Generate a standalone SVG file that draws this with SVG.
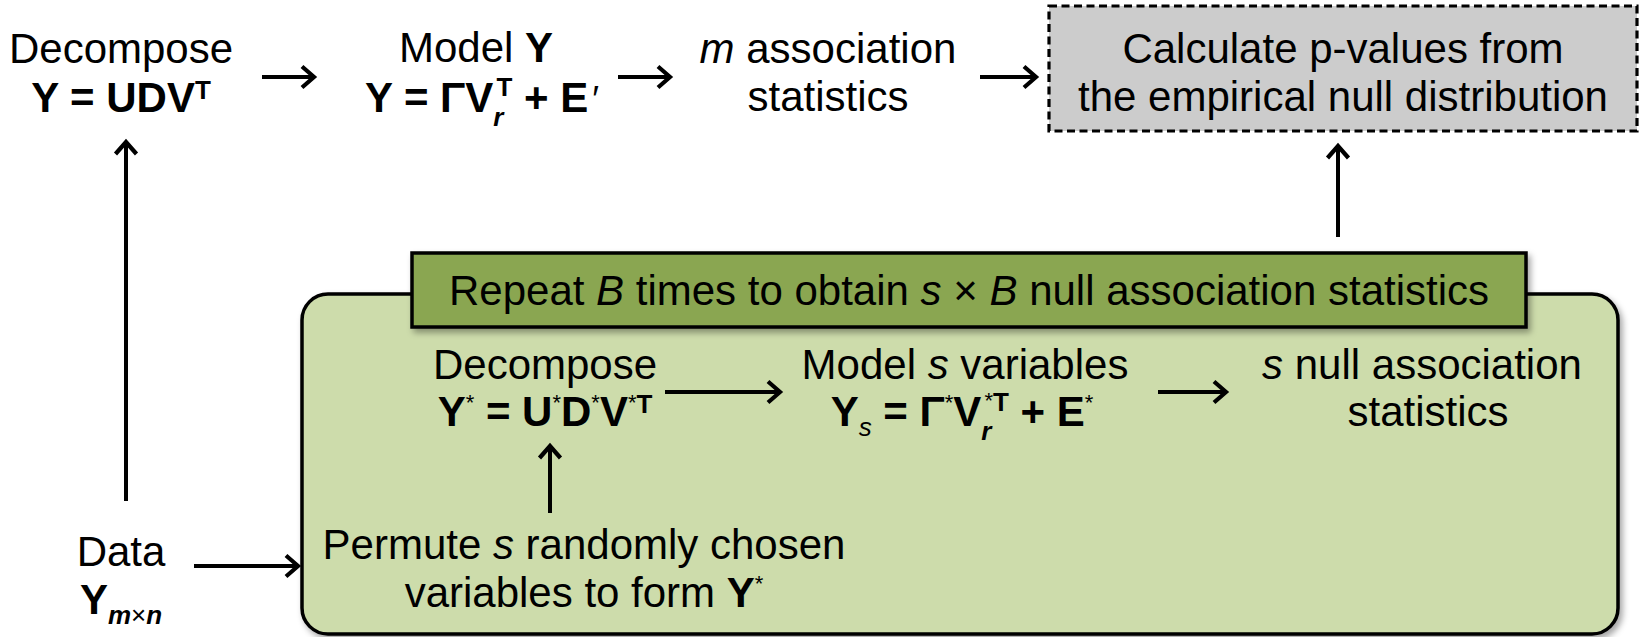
<svg xmlns="http://www.w3.org/2000/svg" width="1643" height="637" viewBox="0 0 1643 637">
<style>
text{font-family:"Liberation Sans",Arial,Helvetica,sans-serif;font-size:42px;fill:#000;text-anchor:middle}
.b{font-weight:bold}
.i{font-style:italic}
.sup{font-size:26px}
.ast{font-size:22px;font-weight:normal}
.conn{stroke:#000;stroke-width:4;fill:none}
</style>
<defs>
<marker id="ah" markerUnits="userSpaceOnUse" markerWidth="24" markerHeight="26" refX="15" refY="12" orient="auto" overflow="visible">
<path d="M3,1.5 L15,12 L3,22.5" fill="none" stroke="#000" stroke-width="4.2" stroke-linejoin="miter"/>
</marker>
<filter id="sh" x="-5%" y="-20%" width="110%" height="150%">
<feDropShadow dx="3" dy="4" stdDeviation="3" flood-color="#000" flood-opacity="0.35"/>
</filter>
</defs>

<g id="loop">
<rect x="302" y="294" width="1316" height="340" rx="26" ry="26" fill="#cddcab" stroke="#000" stroke-width="3.5" filter="url(#sh)"/>
</g>
<g id="repeat">
<rect x="412" y="253" width="1114" height="74" fill="#8aa651" stroke="#000" stroke-width="3.5" filter="url(#sh)"/>
<text x="969" y="305">Repeat <tspan class="i">B</tspan> times to obtain <tspan class="i">s</tspan> × <tspan class="i">B</tspan> null association statistics</text>
</g>

<g id="decompose">
<text x="121" y="63">Decompose</text>
<text x="121" y="112" class="b">Y = UDV<tspan class="sup" dy="-13">T</tspan></text>
</g>
<g id="model">
<text x="476" y="62">Model <tspan class="b">Y</tspan></text>
<text x="482" y="112" class="b">Y = ΓV<tspan class="sup i" dy="14">r</tspan><tspan class="sup" dx="-7" dy="-30">T</tspan><tspan dy="16"> + E</tspan><tspan font-weight="normal" font-size="36" dx="4">′</tspan></text>
</g>
<g id="stats">
<text x="828" y="63"><tspan class="i">m</tspan> association</text>
<text x="828" y="111">statistics</text>
</g>
<g id="pvalues">
<rect x="1049" y="6" width="588" height="125" fill="#cccccc" stroke="#000" stroke-width="3.2" stroke-dasharray="8,4.5"/>
<text x="1343" y="63">Calculate p-values from</text>
<text x="1343" y="111">the empirical null distribution</text>
</g>
<g id="data">
<text x="121" y="566">Data</text>
<text x="121" y="614" class="b">Y<tspan class="sup i" dy="10">m</tspan><tspan class="sup" font-weight="normal">×</tspan><tspan class="sup i">n</tspan></text>
</g>
<g id="decompose2">
<text x="545" y="379">Decompose</text>
<text x="545" y="426" class="b">Y<tspan class="ast" dy="-16">*</tspan><tspan dy="16"> = U</tspan><tspan class="ast" dy="-16">*</tspan><tspan dy="16">D</tspan><tspan class="ast" dy="-16">*</tspan><tspan dy="16">V</tspan><tspan class="ast" dy="-16">*</tspan><tspan class="sup" dy="3">T</tspan></text>
</g>
<g id="model2">
<text x="965" y="379">Model <tspan class="i">s</tspan> variables</text>
<text x="962" y="426" class="b">Y<tspan class="sup i" font-weight="normal" dy="10">s</tspan><tspan dy="-10"> = Γ</tspan><tspan class="ast" dy="-16">*</tspan><tspan dy="16">V</tspan><tspan class="sup i" dy="14">r</tspan><tspan class="ast" dx="-7" dy="-32">*</tspan><tspan class="sup" dy="3">T</tspan><tspan dy="15"> + E</tspan><tspan class="ast" dy="-16">*</tspan></text>
</g>
<g id="nullstats">
<text x="1422" y="379"><tspan class="i">s</tspan> null association</text>
<text x="1428" y="426">statistics</text>
</g>
<g id="permute">
<text x="584" y="559">Permute <tspan class="i">s</tspan> randomly chosen</text>
<text x="584" y="607">variables to form <tspan class="b">Y</tspan><tspan class="ast" dy="-16">*</tspan></text>
</g>

<g id="connectors">
<line class="conn" x1="262" y1="77" x2="314" y2="77" marker-end="url(#ah)"/>
<line class="conn" x1="618" y1="77" x2="670" y2="77" marker-end="url(#ah)"/>
<line class="conn" x1="980" y1="77" x2="1036" y2="77" marker-end="url(#ah)"/>
<line class="conn" x1="1338" y1="237" x2="1338" y2="146" marker-end="url(#ah)" stroke-width="3"/>
<line class="conn" x1="126" y1="501" x2="126" y2="142" marker-end="url(#ah)" stroke-width="3"/>
<line class="conn" x1="194" y1="566" x2="298" y2="566" marker-end="url(#ah)"/>
<line class="conn" x1="665" y1="392" x2="780" y2="392" marker-end="url(#ah)"/>
<line class="conn" x1="1158" y1="392" x2="1226" y2="392" marker-end="url(#ah)"/>
<line class="conn" x1="550" y1="513" x2="550" y2="446" marker-end="url(#ah)" stroke-width="3"/>
</g>
</svg>
